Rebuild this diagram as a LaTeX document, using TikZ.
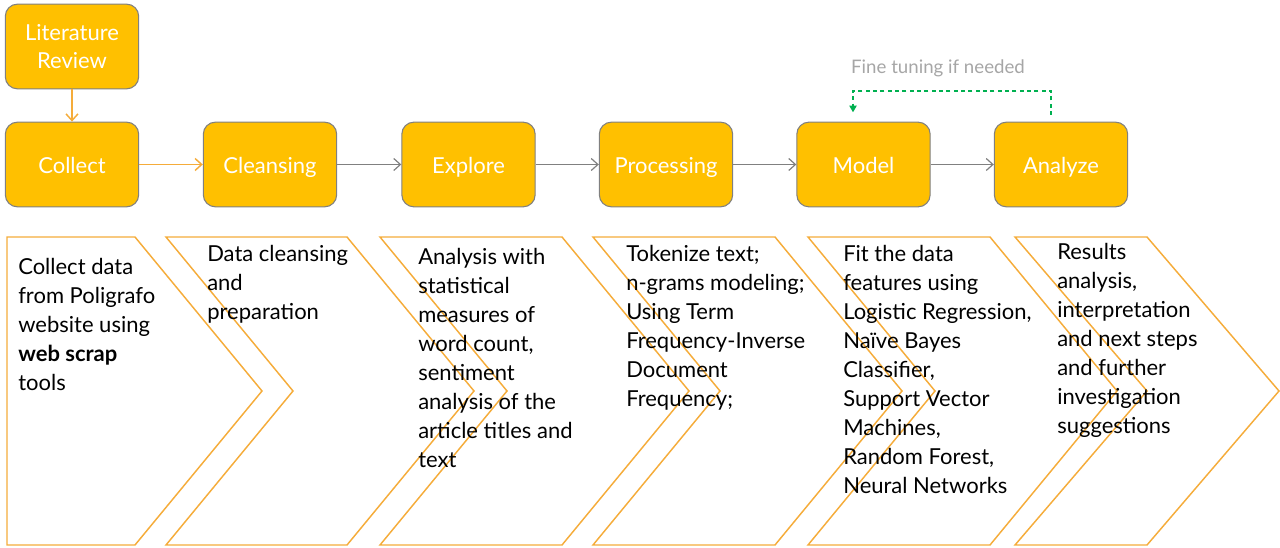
\documentclass[tikz,border=0pt]{standalone}
\usepackage{fontspec}
\setmainfont{Lato}
\usetikzlibrary{arrows.meta}
\definecolor{gold}{RGB}{255,192,0}
\definecolor{boxline}{RGB}{128,128,128}
\definecolor{chevline}{RGB}{245,172,58}
\definecolor{tunegreen}{RGB}{0,176,80}
\definecolor{tunegray}{RGB}{166,166,166}
\begin{document}
\begin{tikzpicture}[x=0.75pt,y=-0.75pt]
      \useasboundingbox (0,0) rectangle (1280,548);
      \begin{scope}[draw=chevline,line width=1.1pt,line join=miter]
        \draw (7,237) -- (135,237) -- (262,391) -- (135,545) -- (7,545) -- cycle;
        \foreach \l/\r/\d in {166/347/127, 380/562/127, 593/775/127, 808/990/127, 1015/1147/132}
          \draw (\l,237) -- (\r,237) -- (\r+\d,391) -- (\r,545) -- (\l,545) -- (\l+\d,391) -- cycle;
      \end{scope}
      \begin{scope}[every node/.style={rectangle,rounded corners=9pt,fill=gold,draw=boxline,
          line width=0.8pt,minimum width=100pt,minimum height=63.5pt,text=white,
          align=center,font=\fontsize{16.5}{21.5}\selectfont},
          oneline/.style={text height=13.8pt,text depth=1pt}]
        \node (lit) at (72,46.5) {Literature\\Review};
        \node[oneline] (collect) at (72,164.5) {Collect};
        \node[oneline] (cleansing) at (270,164.5) {Cleansing};
        \node[oneline] (explore) at (468.5,164.5) {Explore};
        \node[oneline] (processing) at (666,164.5) {Processing};
        \node[oneline] (model) at (863.5,164.5) {Model};
        \node[oneline] (analyze) at (1061,164.5) {Analyze};
      \end{scope}
      \begin{scope}[every node/.style={anchor=north west,inner sep=0pt,align=left,
          font=\fontsize{16.5}{21.75}\selectfont}]
        \node (collectTxt) at (18,258) {Collect data\\from Poligrafo\\website using\\\textbf{web scrap}\\tools};
        \node (cleansingTxt) at (207,245) {Data cleansing\\and\\preparation};
        \node (exploreTxt) at (418,248) {Analysis with\\statistical\\measures of\\word count,\\sentiment\\analysis of the\\article titles and\\text};
        \node (processingTxt) at (626,245) {Tokenize text;\\n-grams modeling;\\Using Term\\Frequency-Inverse\\Document\\Frequency;};
        \node (modelTxt) at (843,245) {Fit the data\\features using\\Logistic Regression,\\Naïve Bayes\\Classifier,\\Support Vector\\Machines,\\Random Forest,\\Neural Networks};
        \node (analyzeTxt) at (1057,243) {Results\\analysis,\\interpretation\\and next steps\\and further\\investigation\\suggestions};
      \end{scope}
      \node[text=tunegray,font=\fontsize{14}{17}\selectfont] (tuneLbl) at (938,68) {Fine tuning if needed};
      \coordinate (tuneR) at (1051,91);
      \coordinate (tuneL) at (853,91);
      \begin{scope}[>={Straight Barb[length=5pt,width=9pt]}]
        \path [->,draw=chevline,line width=1.1pt] (lit) edge (collect);
        \path [->,draw=chevline,line width=1.1pt] (collect) edge (cleansing);
        \path [->,draw=boxline,line width=0.9pt] (cleansing) edge (explore);
        \path [->,draw=boxline,line width=0.9pt] (explore) edge (processing);
        \path [->,draw=boxline,line width=0.9pt] (processing) edge (model);
        \path [->,draw=boxline,line width=0.9pt] (model) edge (analyze);
      \end{scope}
      \draw [-{Triangle[length=5pt,width=5.5pt]},tunegreen,line width=0.9pt,dash pattern=on 3pt off 2.5pt,
          shorten <=5pt,shorten >=7pt]
        (analyze.north -| tuneR) -- (tuneR) -- (tuneL) -- (model.north -| tuneL);
    \end{tikzpicture}
\end{document}
